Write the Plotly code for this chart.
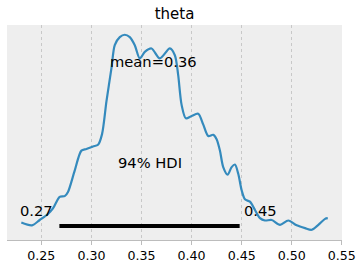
import plotly.graph_objects as go

# KDE of posterior for theta
theta_x = [0.230, 0.2406, 0.2483, 0.2566, 0.2616, 0.2683, 0.2733, 0.2766, 0.2833, 0.290,
           0.295, 0.3016, 0.3066, 0.3106, 0.315, 0.320, 0.3233, 0.3283, 0.3333, 0.3383,
           0.3433, 0.3483, 0.3533, 0.360, 0.3683, 0.3783, 0.3833, 0.3866, 0.390, 0.3943,
           0.400, 0.4066, 0.4116, 0.4166, 0.4216, 0.425, 0.4283, 0.4316, 0.436, 0.440,
           0.4433, 0.4466, 0.450, 0.4533, 0.4583, 0.4633, 0.4683, 0.4733, 0.480, 0.4883,
           0.4966, 0.505, 0.5133, 0.520, 0.5266, 0.5333, 0.536]
density = [0.33, 0.21, 0.44, 0.70, 0.94, 1.44, 1.47, 1.65, 2.57, 3.43,
           3.50, 3.61, 3.68, 4.14, 5.55, 6.98, 7.97, 8.32, 8.42, 8.32,
           7.97, 7.40, 7.68, 7.83, 7.40, 7.83, 7.54, 6.69, 5.41, 4.82,
           4.92, 5.02, 4.56, 4.06, 4.11, 3.92, 3.43, 2.72, 2.39, 2.72,
           2.83, 2.43, 1.72, 1.33, 1.23, 0.87, 0.52, 0.42, 0.44, 0.23,
           0.42, 0.21, 0.09, 0.02, 0.23, 0.49, 0.52]
hdi = [0.268, 0.448]
hdi_labels = ["0.27", "0.45"]
mean_val = 0.36
tick_vals = [0.25, 0.30, 0.35, 0.40, 0.45, 0.50, 0.55]
tick_text = ["0.25", "0.30", "0.35", "0.40", "0.45", "0.50", "0.55"]

ymax = 8.42
ylo = -0.05 * ymax
yhi = 1.05 * ymax
plot_h = yhi

fig = go.Figure()
fig.add_trace(go.Scatter(x=theta_x, y=density, mode="lines", line=dict(color="#348ABD", width=2.2, shape="spline", smoothing=0.8),
                         hoverinfo="skip", showlegend=False))
fig.add_trace(go.Scatter(x=hdi, y=[plot_h * 0.02] * 2, mode="lines", line=dict(color="black", width=4),
                         hoverinfo="skip", showlegend=False))

font = dict(family="DejaVu Sans", size=14.7, color="black")
fig.add_annotation(x=hdi[0] - 0.023, y=plot_h * 0.094, text=hdi_labels[0], showarrow=False, font=font, xref="x", yref="y")
fig.add_annotation(x=hdi[1] + 0.021, y=plot_h * 0.094, text=hdi_labels[1], showarrow=False, font=font, xref="x", yref="y")
fig.add_annotation(x=sum(hdi) / 2, y=plot_h * 0.33, text="94% HDI", showarrow=False, font=font, xref="x", yref="y")
fig.add_annotation(x=mean_val + 0.0016, y=plot_h * 0.82, text="mean=0.36", showarrow=False, font=font, xref="x", yref="y")

fig.update_layout(
    width=363, height=270,
    margin=dict(l=7, r=21, t=25, b=28),
    plot_bgcolor="#eeeeee", paper_bgcolor="white",
    title=dict(text="theta", x=174.5 / 363, xanchor="center", y=1 - 13.5 / 270, yanchor="middle",
               font=dict(family="DejaVu Sans", size=15, color="black")),
    xaxis=dict(range=[0.2157, 0.5502], tickvals=tick_vals, ticktext=tick_text,
               showline=True, linecolor="#bcbcbc", linewidth=1, ticks="outside", ticklen=4, tickcolor="#bcbcbc",
               showgrid=True, gridcolor="#c8c8c8", griddash="dot", gridwidth=0.8, zeroline=False,
               tickfont=dict(family="DejaVu Sans", size=12.6, color="black")),
    yaxis=dict(range=[ylo, yhi], visible=False, showgrid=False, zeroline=False),
)
fig.write_html("out.html")
